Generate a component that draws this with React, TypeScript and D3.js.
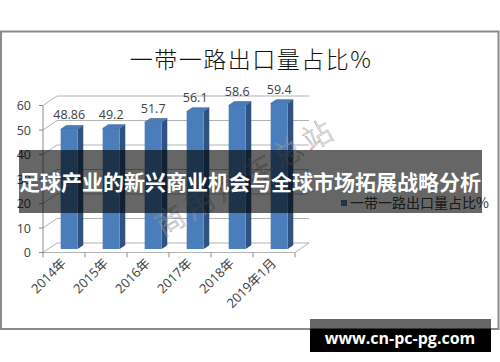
import React from "react";
import * as d3 from "d3";

const categories = ["2014年", "2015年", "2016年", "2017年", "2018年", "2019年1月"];
const values = [48.86, 49.2, 51.7, 56.1, 58.6, 59.4];
const valueLabels = ["48.86", "49.2", "51.7", "56.1", "58.6", "59.4"];
const yTicks = [0, 10, 20, 30, 40, 50, 60];
const title = "一带一路出口量占比%";
const seriesName = "一带一路出口量占比%";
const bannerText = "足球产业的新兴商业机会与全球市场拓展战略分析";
const watermark = "商用汽车总站";
const siteText = "www.cn-pc-pg.com";

const W = 500;
const H = 362;
const DX = 14; // floor depth offset x
const DY = 9.5; // floor depth offset y
const F0 = 0.37; // bar front depth fraction
const F1 = 0.77; // bar back depth fraction
const BAR_W = 17;

const numFont = "'Open Sans', 'Noto Sans CJK SC', sans-serif";
const cjkFont = "'Noto Sans CJK SC', sans-serif";

export default function App() {
  const x = d3.scaleBand<string>().domain(categories).range([43, 295]).padding(0);
  const y = d3.scaleLinear().domain([0, 60]).range([252.5, 105.5]);
  const bw = x.bandwidth();
  const fdx = DX * F0;
  const fdy = DY * F0;
  const sdx = DX * (F1 - F0);
  const sdy = DY * (F1 - F0);
  const x0 = x.range()[0];
  const x1 = x.range()[1];
  const gridColor = "#b3b3b3";
  const axisColor = "#8c8c8c";

  return (
    <svg
      width={W}
      height={H}
      style={{ position: "absolute", left: 0, top: 0, background: "#fff" }}
    >
      {/* frame */}
      <rect x={1} y={31.5} width={497.5} height={297.5} fill="#fff" stroke="#8a8a8a" strokeWidth={2} />

      {/* title */}
      <text
        x={251}
        y={68}
        textAnchor="middle"
        fontFamily={cjkFont}
        fontSize={23}
        fontWeight={300}
        letterSpacing={1.5}
        fill="#111"
      >
        {title}
      </text>

      {/* gridlines */}
      {yTicks.map((t) => (
        <g key={"g" + t}>
          <line x1={x0} y1={y(t)} x2={x0 + DX} y2={y(t) - DY} stroke={gridColor} strokeWidth={1} />
          <line x1={x0 + DX} y1={y(t) - DY} x2={x1 + DX} y2={y(t) - DY} stroke={gridColor} strokeWidth={1} />
        </g>
      ))}
      {/* floor front & right edge */}
      <line x1={x0} y1={y(0)} x2={x1} y2={y(0)} stroke={gridColor} strokeWidth={1} />
      <line x1={x1} y1={y(0)} x2={x1 + DX} y2={y(0) - DY} stroke={gridColor} strokeWidth={1} />

      {/* y axis */}
      <line x1={x0} y1={y(0)} x2={x0} y2={y(60)} stroke={axisColor} strokeWidth={1} />
      {yTicks.map((t) => (
        <g key={"yt" + t}>
          <line x1={x0 - 4} y1={y(t)} x2={x0} y2={y(t)} stroke={axisColor} strokeWidth={1} />
          <text
            x={31}
            y={y(t)}
            dy="0.36em"
            textAnchor="end"
            fontFamily={numFont}
            fontSize={12.5}
            fill="#404040"
          >
            {t}
          </text>
        </g>
      ))}
      {/* x axis ticks */}
      {[...categories.map((c) => x(c) as number), x1].map((px, i) => (
        <line key={"xt" + i} x1={px} y1={y(0)} x2={px} y2={y(0) + 5} stroke={axisColor} strokeWidth={1} />
      ))}

      {/* bars */}
      {categories.map((c, i) => {
        const v = values[i];
        const left = (x(c) as number) + bw / 2 + fdx - BAR_W / 2;
        const right = left + BAR_W;
        const bot = y(0) - fdy;
        const top = y(v) - fdy;
        return (
          <g key={"b" + c}>
            <polygon
              points={`${right},${top} ${right + sdx},${top - sdy} ${right + sdx},${bot - sdy} ${right},${bot}`}
              fill="#2f5281"
            />
            <rect x={left} y={top} width={BAR_W} height={bot - top} fill="#4a7ebb" />
            <polygon
              points={`${left},${top} ${left + sdx},${top - sdy} ${right + sdx},${top - sdy} ${right},${top}`}
              fill="#4a7dba"
              stroke="#385f91"
              strokeWidth={0.6}
            />
            <text
              x={left + BAR_W / 2}
              y={top - sdy - 6}
              textAnchor="middle"
              fontFamily={numFont}
              fontSize={12.5}
              fill="#404040"
            >
              {valueLabels[i]}
            </text>
          </g>
        );
      })}

      {/* x labels */}
      {categories.map((c) => {
        const cx = (x(c) as number) + bw / 2 + 3;
        const cy = 264;
        return (
          <text
            key={"xl" + c}
            x={cx}
            y={cy}
            transform={`rotate(-45 ${cx} ${cy})`}
            textAnchor="end"
            fontFamily={numFont}
            fontSize={13}
            fill="#404040"
          >
            {c}
          </text>
        );
      })}

      {/* legend */}
      <rect x={341} y={200} width={6} height={6} fill="#4F81BD" />
      <text x={350} y={207.5} fontFamily={cjkFont} fontSize={14} fill="#404040">
        {seriesName}
      </text>

      {/* watermark */}
      <text
        x={246}
        y={177}
        dy="0.35em"
        textAnchor="middle"
        transform="rotate(-30 246 177)"
        fontFamily={cjkFont}
        fontSize={29}
        fontWeight={300}
        letterSpacing={5}
        fill="none"
        stroke="#9a9a9a"
        strokeWidth={0.5}
      >
        {watermark}
      </text>

      {/* banner */}
      <rect x={19} y={150} width={463} height={63} fill="#000" fillOpacity={0.6} />
      <text
        x={250}
        y={190}
        textAnchor="middle"
        fontFamily={cjkFont}
        fontSize={21}
        fontWeight={700}
        fill="#fff"
      >
        {bannerText}
      </text>

      {/* site box */}
      <rect x={310} y={319} width={181} height={10} fill="#000" fillOpacity={0.6} />
      <rect x={310} y={329} width={181} height={23} fill="#000" />
      <text
        x={400}
        y={344}
        textAnchor="middle"
        fontFamily="'Open Sans', sans-serif"
        fontSize={16}
        fontWeight={700}
        fill="#fff"
      >
        {siteText}
      </text>
    </svg>
  );
}
